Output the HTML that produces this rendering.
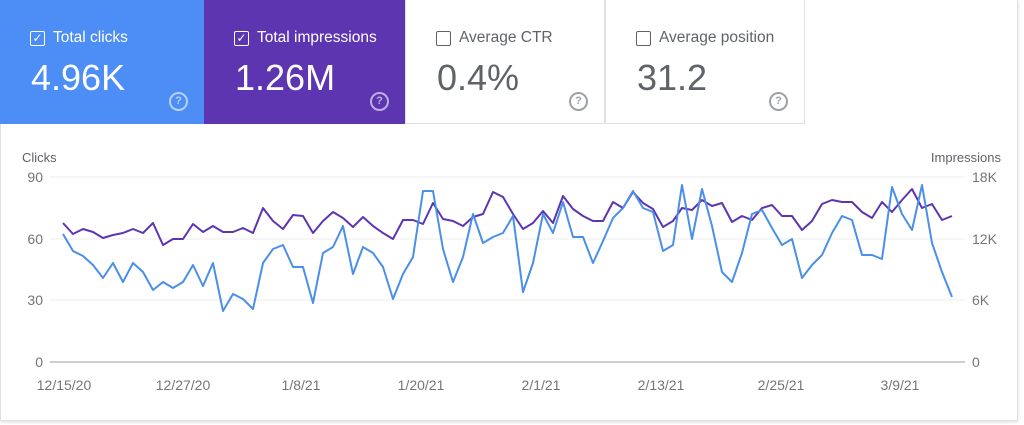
<!DOCTYPE html>
<html><head><meta charset="utf-8"><style>
body{margin:0;width:1024px;height:425px;background:#fff;font-family:"Liberation Sans",sans-serif;overflow:hidden;position:relative}
.frame{position:absolute;left:0;top:0;width:1016px;height:420px;border:1px solid #e0e0e0;border-top:none;box-shadow:0 1px 3px rgba(0,0,0,.15)}
.card{position:absolute;top:0;height:124px;width:200px;box-sizing:border-box;padding:0 0 0 29px}
.c1{left:0;width:204px;background:#4c8df6;color:#fff}
.c2{left:204px;width:201px;background:#5e35b1;color:#fff}
.c3{left:405px;background:#fff;color:#5f6368;border:1px solid #e0e0e0;border-top:none}
.c4{left:605px;background:#fff;color:#5f6368;border:1px solid #e0e0e0;border-top:none}
.lab{position:absolute;top:29px;left:30px;font-size:15.5px;display:flex;align-items:center}
.cb{width:15px;height:15px;border:1.5px solid currentColor;border-radius:2px;margin-right:8px;box-sizing:border-box;font-size:12px;line-height:12px;text-align:center}
.val{position:absolute;top:57px;left:31px;font-size:36px}
.q{position:absolute;right:16px;top:92px;width:15px;height:15px;border:2px solid currentColor;border-radius:50%;font-size:11px;font-weight:bold;text-align:center;line-height:15px;opacity:.6}
</style></head><body>
<div class="frame"></div>
<div class="card c1"><div class="lab"><div class="cb">✓</div>Total clicks</div><div class="val">4.96K</div><div class="q">?</div></div>
<div class="card c2"><div class="lab"><div class="cb">✓</div>Total impressions</div><div class="val">1.26M</div><div class="q">?</div></div>
<div class="card c3"><div class="lab"><div class="cb"></div>Average CTR</div><div class="val">0.4%</div><div class="q">?</div></div>
<div class="card c4"><div class="lab"><div class="cb"></div>Average position</div><div class="val">31.2</div><div class="q">?</div></div>
<svg width="1024" height="425" style="position:absolute;left:0;top:0" font-family="Liberation Sans,sans-serif" font-size="13" fill="#5f6368">
<text x="22" y="162">Clicks</text><text x="1001" y="162" text-anchor="end">Impressions</text>
<g stroke="#ececec"><line x1="50" x2="965" y1="177" y2="177"/><line x1="50" x2="965" y1="239" y2="239"/><line x1="50" x2="965" y1="300" y2="300"/></g>
<line x1="50" x2="965" y1="362" y2="362" stroke="#9e9e9e"/>
<g fill="#757575" font-size="14"><text x="43" y="182" text-anchor="end">90</text><text x="43" y="244" text-anchor="end">60</text><text x="43" y="305" text-anchor="end">30</text><text x="43" y="367" text-anchor="end">0</text>
<text x="972" y="182">18K</text><text x="972" y="244">12K</text><text x="972" y="305">6K</text><text x="972" y="367">0</text>
<g text-anchor="middle"><text x="64" y="390">12/15/20</text><text x="183" y="390">12/27/20</text><text x="301" y="390">1/8/21</text><text x="421" y="390">1/20/21</text><text x="541" y="390">2/1/21</text><text x="661" y="390">2/13/21</text><text x="781" y="390">2/25/21</text><text x="900" y="390">3/9/21</text></g></g>
<polyline fill="none" stroke="#5e35b1" stroke-width="2" stroke-linejoin="round" points="63,223 73,234 83,229 93,232 103,238 113,235 123,233 133,229 143,233 153,223 163,245 173,239 183,239 193,224 203,232 213,226 223,232 233,232 243,228 253,233 263,208 273,221 283,229 293,215 303,216 313,233 323,221 333,212 343,218 353,227 363,217 373,226 383,233 393,239 403,220 413,220 423,224 433,203 443,219 453,221 463,226 473,217 483,214 493,192 503,197 513,214 523,229 533,223 543,211 553,223 563,196 573,209 583,216 593,221 603,221 613,202 623,208 633,192 643,203 653,209 663,227 673,221 682,208 692,210 702,200 712,206 722,203 732,222 742,216 752,220 762,208 772,205 782,216 792,216 802,230 812,221 822,204 832,200 842,202 852,202 862,212 872,218 882,202 892,212 902,200 912,189 922,208 932,204 942,220 952,216"/>
<polyline fill="none" stroke="#4a8fe8" stroke-width="2" stroke-linejoin="round" points="63,234 73,251 83,256 93,265 103,278 113,263 123,282 133,263 143,272 153,290 163,282 173,288 183,282 193,265 203,286 213,263 223,311 233,294 243,299 253,309 263,263 273,249 283,245 293,267 303,267 313,303 323,253 333,247 343,226 353,274 363,247 373,253 383,267 393,299 403,274 413,257 423,191 433,191 443,249 453,282 463,257 473,214 483,243 493,237 503,233 513,216 523,292 533,263 543,214 553,233 563,202 573,237 583,237 593,263 603,241 613,218 623,208 633,191 643,208 653,212 663,251 673,245 682,185 692,239 702,189 712,226 722,272 732,282 742,253 752,214 762,210 772,228 782,245 792,239 802,278 812,265 822,255 832,233 842,216 852,220 862,255 872,255 882,259 892,187 902,214 912,230 922,185 932,243 942,272 952,297"/>
</svg>
</body></html>
